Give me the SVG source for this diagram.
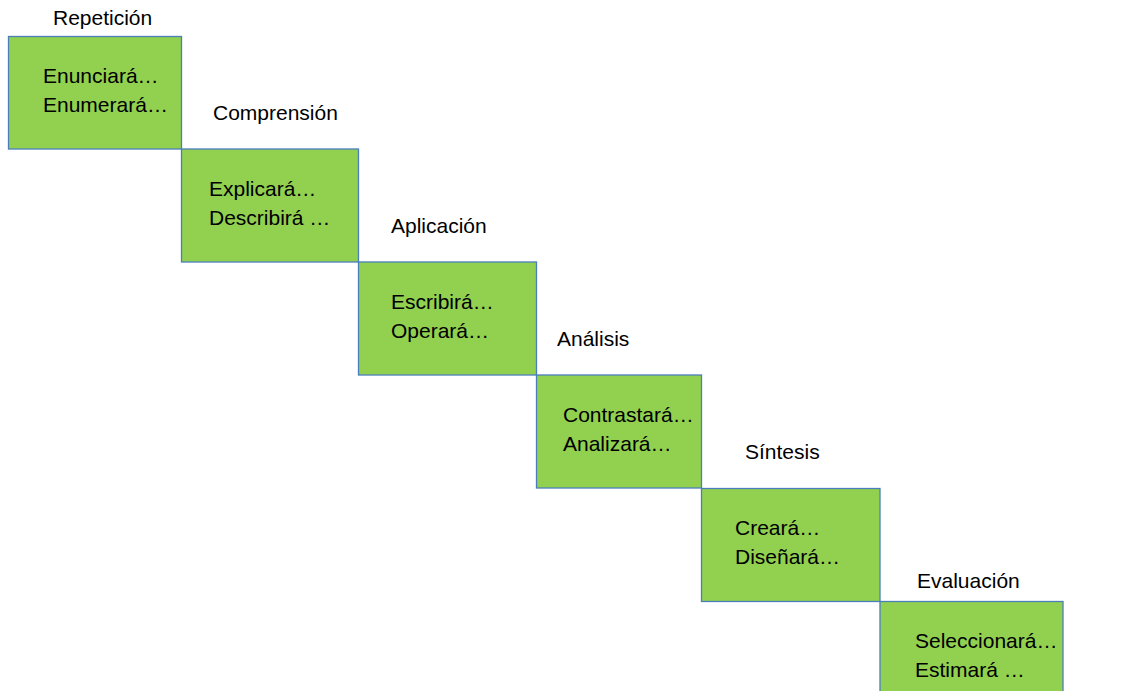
<svg xmlns="http://www.w3.org/2000/svg" width="1143" height="691" viewBox="0 0 1143 691">
<style>
.box{fill:#92D050;stroke:#4A7EBB;stroke-width:1.3}
text{font-family:"Liberation Sans",Arial,sans-serif;font-size:21px;fill:#000}
</style>
<rect width="1143" height="691" fill="#fff"/>
<g id="connectors"/>
<g id="repeticion">
<text x="53" y="25">Repetición</text>
<rect class="box" x="8.5" y="36.5" width="173" height="112.5"/>
<text x="43" y="83">Enunciará…</text>
<text x="43" y="112">Enumerará…</text>
</g>
<g id="comprension">
<text x="213" y="120">Comprensión</text>
<rect class="box" x="181.5" y="149" width="177" height="113"/>
<text x="209" y="196">Explicará…</text>
<text x="209" y="225">Describirá …</text>
</g>
<g id="aplicacion">
<text x="391" y="233">Aplicación</text>
<rect class="box" x="358.5" y="262" width="178" height="113"/>
<text x="391" y="309">Escribirá…</text>
<text x="391" y="338">Operará…</text>
</g>
<g id="analisis">
<text x="557" y="346">Análisis</text>
<rect class="box" x="536.5" y="375" width="165" height="113"/>
<text x="563" y="422">Contrastará…</text>
<text x="563" y="451">Analizará…</text>
</g>
<g id="sintesis">
<text x="745" y="459">Síntesis</text>
<rect class="box" x="701.5" y="488.5" width="178.5" height="113"/>
<text x="735" y="535">Creará…</text>
<text x="735" y="564">Diseñará…</text>
</g>
<g id="evaluacion">
<text x="917" y="588">Evaluación</text>
<rect class="box" x="880" y="601.5" width="183" height="100"/>
<text x="915" y="648">Seleccionará…</text>
<text x="915" y="677">Estimará …</text>
</g>
</svg>
